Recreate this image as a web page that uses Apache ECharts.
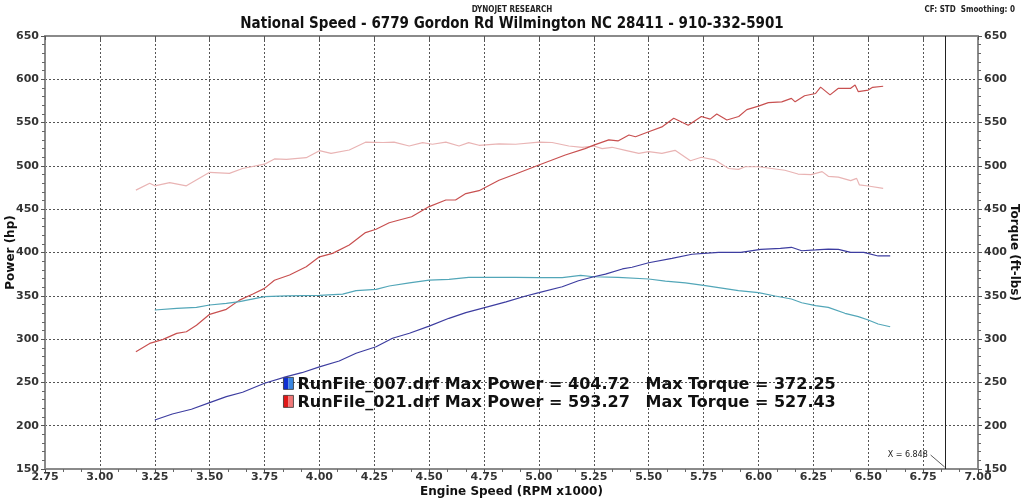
<!DOCTYPE html>
<html><head><meta charset="utf-8">
<script src="https://cdn.jsdelivr.net/npm/echarts@6/dist/echarts.min.js"></script>
<style>html,body{margin:0;padding:0;background:#fff}#c{width:1024px;height:499px}</style>
</head><body><div id="c"></div>
<script>
const titleText = 'National Speed - 6779 Gordon Rd Wilmington NC 28411 - 910-332-5901';
const xTicks = {min: 2.75, max: 7.0, interval: 0.25};
const yTicks = {min: 150, max: 650, interval: 50};
const cursorX = 6.848;

const run007Power = [[3.25,206.6],[3.33,213.5],[3.417,219],[3.5,226.6],[3.576,233.5],[3.65,238.6],[3.75,249],[3.85,256.6],[3.92,261.2],[4.0,268],[4.09,274.7],[4.167,283.6],[4.258,291.2],[4.333,301],[4.41,306.7],[4.5,315],[4.59,324],[4.667,330.5],[4.757,336.7],[4.85,343],[4.94,349.8],[5.0,353.6],[5.106,360.5],[5.18,367.4],[5.25,372],[5.303,375],[5.38,381],[5.424,383],[5.5,388.2],[5.606,393.3],[5.697,398],[5.818,400.2],[5.92,400.2],[6.01,403.7],[6.1,404.8],[6.15,406],[6.197,402],[6.26,403],[6.318,404],[6.364,403.7],[6.42,400.2],[6.48,400.2],[6.545,396],[6.6,396]];
const run007Torque = [[3.25,333.6],[3.35,335.5],[3.44,336.7],[3.5,339.4],[3.576,341.3],[3.636,343.2],[3.75,349],[3.85,350],[4.0,350.6],[4.106,352],[4.167,356],[4.258,357.5],[4.318,361.3],[4.41,365],[4.5,368.2],[4.59,369],[4.68,371.3],[4.757,371.3],[4.89,371.3],[5.0,371],[5.106,371],[5.19,373.6],[5.25,372],[5.36,371.3],[5.5,369.4],[5.576,367],[5.667,365],[5.758,361.7],[5.909,356],[6.0,353.6],[6.076,349.8],[6.15,346.3],[6.197,342],[6.26,338.6],[6.318,336.7],[6.394,329.8],[6.455,326],[6.5,322],[6.545,317.4],[6.6,314.3]];
const run021Power = [[3.164,285.5],[3.227,295],[3.288,299.7],[3.35,306.6],[3.394,308.5],[3.44,316],[3.5,328.6],[3.576,334.4],[3.636,345],[3.697,352],[3.75,358.6],[3.795,368],[3.864,374],[3.94,383.6],[4.0,395],[4.06,399],[4.136,408.7],[4.21,423],[4.258,426.8],[4.318,434.4],[4.364,437.5],[4.42,441.3],[4.5,453],[4.576,460.6],[4.62,460.6],[4.667,468],[4.727,471.4],[4.818,483.5],[4.894,490.6],[5.0,501],[5.12,512.6],[5.21,520],[5.25,524],[5.318,530],[5.36,528.8],[5.41,535.7],[5.44,533.7],[5.5,539.5],[5.56,545],[5.614,555],[5.68,547],[5.74,557],[5.78,554],[5.81,560],[5.856,553],[5.91,557],[5.947,565],[6.0,569],[6.045,573],[6.106,574],[6.15,578],[6.167,574],[6.21,581],[6.26,583.6],[6.283,591],[6.326,582],[6.364,589.6],[6.42,589.6],[6.44,593.3],[6.455,585.7],[6.5,587.6],[6.52,590.7],[6.568,592]];
const run021Torque = [[3.164,472],[3.227,479.9],[3.25,477],[3.318,480.6],[3.394,477],[3.5,492.6],[3.59,491.4],[3.65,497],[3.75,502],[3.795,508],[3.85,507.6],[3.94,509.5],[4.0,517.6],[4.053,514.5],[4.136,518.4],[4.21,527.4],[4.29,527],[4.34,527.4],[4.409,523],[4.47,526.8],[4.515,525],[4.576,527.4],[4.636,523],[4.68,526.8],[4.727,523.8],[4.818,525.5],[4.894,525],[5.0,527.4],[5.06,527],[5.136,523],[5.197,521.5],[5.25,523],[5.288,520],[5.333,521.5],[5.394,518],[5.455,514.5],[5.5,516.5],[5.56,514.5],[5.62,518],[5.69,506],[5.74,510],[5.8,507],[5.864,497],[5.909,496],[5.94,499],[6.0,499],[6.06,497],[6.12,495],[6.18,490.6],[6.24,490],[6.29,493.4],[6.318,488],[6.364,487],[6.42,483],[6.447,485.6],[6.46,478],[6.5,476.8],[6.568,474]];

const legendLines = [
  {name: 'RunFile_007.drf', maxPower: '404.72', maxTorque: '372.25', c1: '#1030d0', c2: '#3a86e0'},
  {name: 'RunFile_021.drf', maxPower: '593.27', maxTorque: '527.43', c1: '#e01818', c2: '#f07878'}
];

const FONT = 'DejaVu Sans';
const chart = echarts.init(document.getElementById('c'), null, {renderer: 'canvas'});
const gridLine = {show: true, lineStyle: {color: '#555', type: [2, 2], width: 1}};
const axisLineStyle = {show: true, lineStyle: {color: '#8a8a8a', width: 2}};
const yAxisCommon = {
  type: 'value', min: yTicks.min, max: yTicks.max, interval: yTicks.interval,
  axisLine: axisLineStyle,
  axisTick: {show: true, length: 4, lineStyle: {color: '#555'}},
  minorTick: {show: true, splitNumber: 5, length: 3, lineStyle: {color: '#666'}},
  axisLabel: {color: '#333', fontFamily: FONT, fontWeight: 'bold', fontSize: 11},
  nameLocation: 'middle', nameMoveOverlap: false,
  nameTextStyle: {color: '#111', fontFamily: FONT, fontWeight: 'bold', fontSize: 12}
};
const line = (data, color, w) => ({
  type: 'line', data, showSymbol: false, symbol: 'none', smooth: false,
  lineStyle: {color, width: w}, itemStyle: {color}, silent: true, z: 3
});

chart.setOption({
  animation: false,
  backgroundColor: '#fff',
  title: [
    {text: 'DYNOJET RESEARCH', left: 'center', top: 1, textStyle: {fontFamily: 'DejaVu Sans Condensed', fontSize: 8, fontWeight: 'bold', color: '#222'}},
    {text: titleText, left: 'center', top: 12, textStyle: {fontFamily: 'DejaVu Sans Condensed', fontSize: 15, fontWeight: 'bold', color: '#111'}},
    {text: 'CF: STD  Smoothing: 0', right: 4, top: 1, textStyle: {fontFamily: 'DejaVu Sans Condensed', fontSize: 8, fontWeight: 'bold', color: '#222'}}
  ],
  grid: {left: 45, right: 46, top: 36, bottom: 30, containLabel: false, outerBoundsMode: 'none'},
  xAxis: [{
    type: 'value', min: xTicks.min, max: xTicks.max, interval: xTicks.interval,
    axisLine: axisLineStyle,
    axisTick: {show: true, length: 4, lineStyle: {color: '#555'}},
    minorTick: {show: true, splitNumber: 3, length: 3, lineStyle: {color: '#666'}},
    splitLine: gridLine,
    axisLabel: {color: '#333', fontFamily: FONT, fontWeight: 'bold', fontSize: 11, margin: 3, formatter: v => v.toFixed(2)},
    name: 'Engine Speed (RPM x1000)', nameLocation: 'middle', nameGap: 17, nameMoveOverlap: false,
    nameTextStyle: {color: '#111', fontFamily: FONT, fontWeight: 'bold', fontSize: 12}
  }, {
    type: 'value', position: 'top', min: xTicks.min, max: xTicks.max, interval: xTicks.interval,
    axisLine: axisLineStyle,
    axisTick: {show: true, inside: true, length: 4, lineStyle: {color: '#555'}},
    minorTick: {show: false},
    splitLine: {show: false},
    axisLabel: {show: false}
  }],
  yAxis: [
    Object.assign({}, yAxisCommon, {position: 'left', name: 'Power (hp)', nameGap: 28, splitLine: gridLine,
      axisLabel: Object.assign({}, yAxisCommon.axisLabel, {margin: 6})}),
    Object.assign({}, yAxisCommon, {position: 'right', name: 'Torque (ft-lbs)', nameGap: 30, nameRotate: -90, splitLine: {show: false},
      axisLabel: Object.assign({}, yAxisCommon.axisLabel, {margin: 6})})
  ],
  series: [
    line(run021Torque, '#e9b4b4', 1.2),
    line(run021Power, '#c85050', 1.2),
    line(run007Torque, '#52a6b8', 1.2),
    Object.assign(line(run007Power, '#3d3da0', 1.2), {
      markLine: {silent: true, symbol: 'none', label: {show: false},
        lineStyle: {color: '#222', width: 1, type: 'solid'},
        data: [{xAxis: cursorX}]}
    })
  ]
});

// annotations placed through the chart's own scales
const p0 = chart.convertToPixel({xAxisIndex: 0, yAxisIndex: 0}, [3.9, 250]);
const pc = chart.convertToPixel({xAxisIndex: 0, yAxisIndex: 0}, [cursorX, 150]);
const graphics = [];
legendLines.forEach((l, i) => {
  const y = p0[1] + 2 + i * 18;
  graphics.push({type: 'rect', shape: {x: p0[0] - 14, y: y - 7, width: 5, height: 12}, style: {fill: l.c1}});
  graphics.push({type: 'rect', shape: {x: p0[0] - 9, y: y - 7, width: 5, height: 12}, style: {fill: l.c2, stroke: null}});
  graphics.push({type: 'rect', shape: {x: p0[0] - 14, y: y - 7, width: 10, height: 12}, style: {fill: null, stroke: '#333', lineWidth: 0.8}});
  graphics.push({type: 'text', x: p0[0], y: y, style: {text: l.name + ' Max Power = ' + l.maxPower, fill: '#111', font: 'bold 16px "' + FONT + '"', textVerticalAlign: 'middle'}});
  graphics.push({type: 'text', x: p0[0] + 348, y: y, style: {text: 'Max Torque = ' + l.maxTorque, fill: '#111', font: 'bold 16px "' + FONT + '"', textVerticalAlign: 'middle'}});
});
graphics.push({type: 'text', x: pc[0] - 57, y: pc[1] - 14, style: {text: 'X = 6.848', fill: '#222', font: '8px "' + FONT + '"', textVerticalAlign: 'middle'}});
graphics.push({type: 'line', shape: {x1: pc[0] - 14, y1: pc[1] - 14, x2: pc[0], y2: pc[1] - 2}, style: {stroke: '#333', lineWidth: 0.8}});
chart.setOption({graphic: graphics});
</script></body></html>
